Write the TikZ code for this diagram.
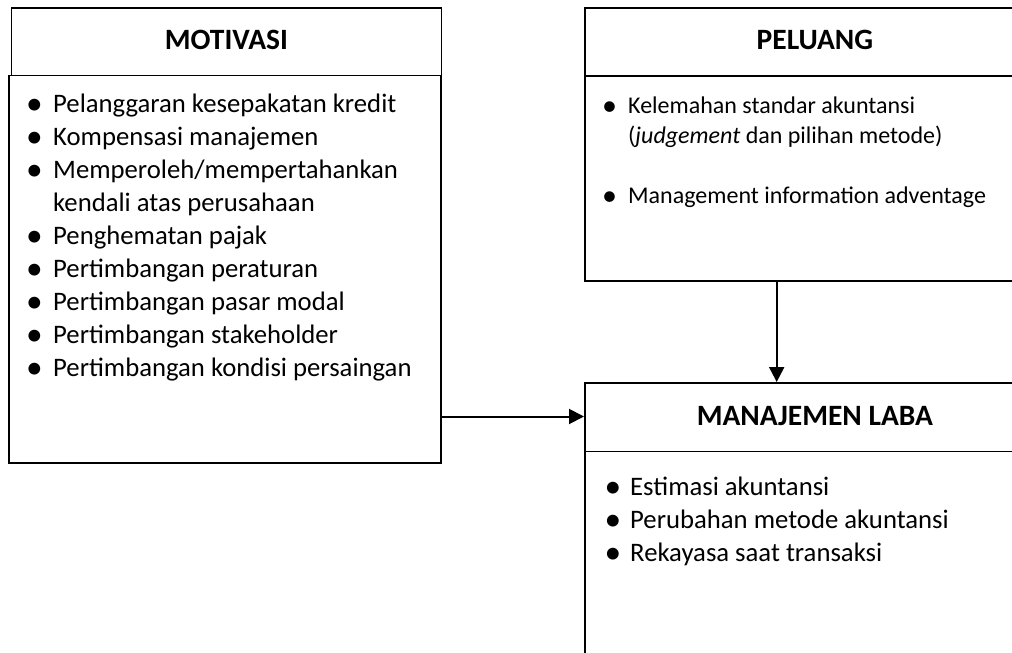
\documentclass[tikz,border=0pt]{standalone}
\usepackage{fontspec}
\usepackage{graphicx}
\setmainfont{Carlito}
\usetikzlibrary{arrows.meta}
\newcommand{\mybul}[1]{\makebox[#1][l]{\hspace*{-0.6pt}\raisebox{-0.08em}{\scalebox{1.25}{\textbullet}}}}
\begin{document}
\begin{tikzpicture}[x=1pt,y=-1pt,
  box/.style={draw=black, rectangle, inner sep=0pt, line width=1.8pt, anchor=north west},
  ttl/.style={font=\bfseries\fontsize{29.5}{36}\selectfont, inner sep=0pt},
  lstA/.style={anchor=north west, inner sep=0pt, align=left, font=\fontsize{26.7}{33}\selectfont},
  lstB/.style={anchor=north west, inner sep=0pt, align=left, font=\fontsize{24}{30}\selectfont},
  arr/.style={-{Triangle[length=15pt,width=15pt]}, line width=2pt}]
\useasboundingbox (0,0) rectangle (1012,653);
\clip (0,0) rectangle (1012,653);
% boxes
\node[box, minimum width=430pt, minimum height=67.5pt] (mott) at (10.5,7) {};
\node[box, minimum width=432pt, minimum height=387.5pt] (motb) at (8,74.5) {};
\node[box, minimum width=460pt, minimum height=68pt] (pelt) at (584,7) {};
\node[box, minimum width=460pt, minimum height=205pt] (pelb) at (584,75) {};
\node[box, minimum width=460pt, minimum height=68.5pt] (mant) at (584,382) {};
\node[box, minimum width=460pt, minimum height=260pt] (manb) at (584,450.5) {};
% titles
\node[ttl] (motl) at ([yshift=2pt]mott.center) {MOTIVASI};
\node[ttl] (pell) at ([yshift=2pt]pelt.center) {PELUANG};
\node[ttl] (manl) at ([yshift=1.5pt]mant.center) {MANAJEMEN LABA};
% lists
\node[lstA] (motlist) at (26.5,89) {%
\strut\mybul{26.5pt}Pelanggaran kesepakatan kredit\\
\mybul{26.5pt}Kompensasi manajemen\\
\mybul{26.5pt}Memperoleh/mempertahankan\\
\hspace*{26.5pt}kendali atas perusahaan\\
\mybul{26.5pt}Penghematan pajak\\
\mybul{26.5pt}Pertimbangan peraturan\\
\mybul{26.5pt}Pertimbangan pasar modal\\
\mybul{26.5pt}Pertimbangan stakeholder\\
\mybul{26.5pt}Pertimbangan kondisi persaingan};
\node[lstB] (pellist) at (602.5,92) {%
\strut\mybul{25.5pt}Kelemahan standar akuntansi\\
\hspace*{25.5pt}(\textit{judgement} dan pilihan metode)\\[30pt]
\mybul{25.5pt}Management information adventage};
\node[lstA] (manlist) at (605,471.9) {%
\strut\mybul{25pt}Estimasi akuntansi\\
\mybul{25pt}Perubahan metode akuntansi\\
\mybul{25pt}Rekayasa saat transaksi};
% connectors
\draw[arr] (motb.east |- 0,416.5) coordinate (a1) -- (mant.west |- a1);
\draw[arr] (776.7,280) coordinate (a2) -- (a2 |- mant.north);
\end{tikzpicture}
\end{document}
